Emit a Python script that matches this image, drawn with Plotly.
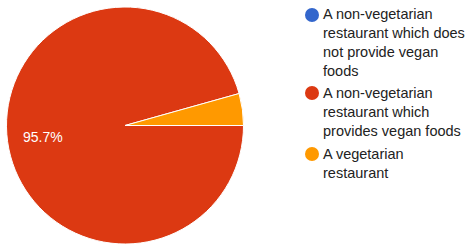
import math
import plotly.graph_objects as go

W, H = 466, 245
labels = [
    "A non-vegetarian restaurant which does not provide vegan foods",
    "A non-vegetarian restaurant which provides vegan foods",
    "A vegetarian restaurant",
]
legend_text = [
    "A non-vegetarian<br>restaurant which does<br>not provide vegan<br>foods",
    "A non-vegetarian<br>restaurant which<br>provides vegan foods",
    "A vegetarian<br>restaurant",
]
values = [0, 22, 1]
colors = ["#3366cc", "#dc3912", "#ff9900"]

cx, cy, r = 125, 125.5, 118.5
fig = go.Figure()
fig.add_trace(go.Pie(
    labels=labels, values=values, sort=False, direction="clockwise", rotation=90,
    marker=dict(colors=colors, line=dict(color="white", width=1)),
    textinfo="none", showlegend=False, hoverinfo="label+percent",
    domain=dict(x=[(cx - r) / W, (cx + r) / W], y=[1 - (cy + r) / H, 1 - (cy - r) / H]),
))

# percentage label of the large slice, placed along its mid-angle
total = sum(values)
start = 0.0
annots = []
for i, v in enumerate(values):
    frac = v / total
    if frac >= 0.5:
        mid = 90 + (start + frac / 2) * 360  # clockwise degrees from 12 o'clock
        a = math.radians(mid)
        lx = cx + 0.70 * r * math.sin(a)
        ly = cy - 0.70 * r * math.cos(a)
        annots.append(dict(xref="paper", yref="paper", x=lx / W, y=1 - ly / H,
                           xanchor="center", yanchor="middle", showarrow=False,
                           text=f"{frac * 100:.1f}%",
                           font=dict(family="Arial", size=14, color="white")))
    start += frac

# manual legend (circle markers)
marker_y = [15, 93, 154]
block_y = [42.75, 111.5, 163]
shapes = []
for i in range(3):
    my = marker_y[i]
    shapes.append(dict(type="circle", xref="paper", yref="paper",
                       x0=(312 - 7) / W, x1=(312 + 7) / W,
                       y0=1 - (my + 7) / H, y1=1 - (my - 7) / H,
                       fillcolor=colors[i], line=dict(width=0)))
    annots.append(dict(xref="paper", yref="paper", x=321 / W, y=1 - block_y[i] / H,
                       xanchor="left", yanchor="middle", align="left", showarrow=False,
                       text=legend_text[i], font=dict(family="Arial", size=14.5, color="#222222")))

fig.update_layout(
    width=W, height=H, margin=dict(l=0, r=0, t=0, b=0),
    paper_bgcolor="white", plot_bgcolor="white",
    shapes=shapes, annotations=annots,
)
fig.write_html("out.html", config={"displayModeBar": False},
               post_script="document.body.style.margin='0';")
